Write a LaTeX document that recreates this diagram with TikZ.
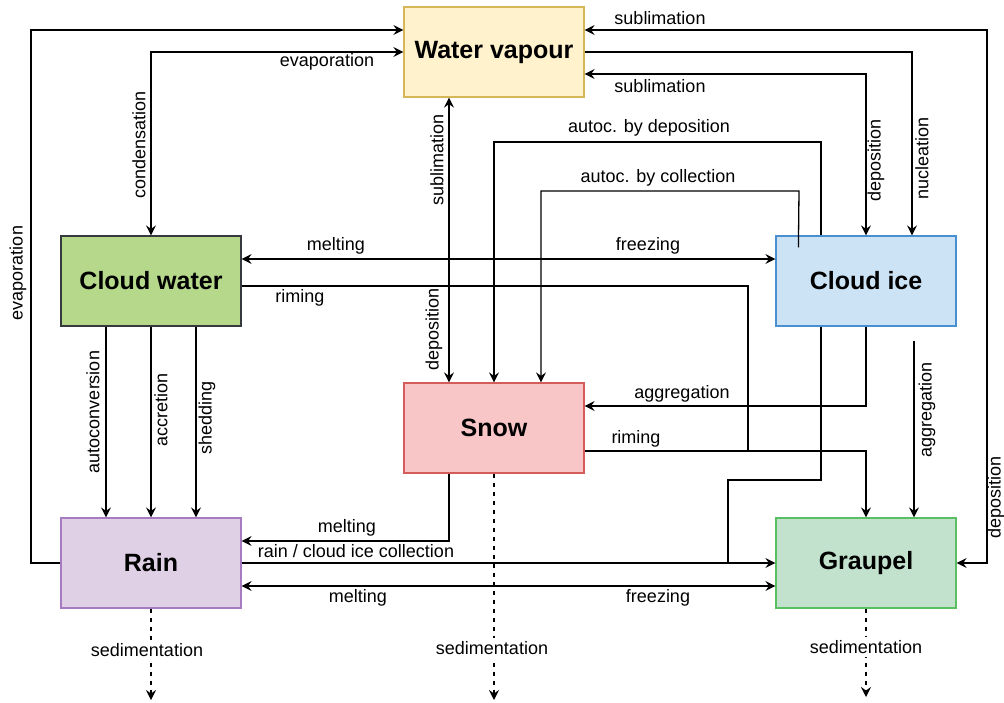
\documentclass[tikz,border=0pt]{standalone}
\usepackage{fontspec}
\setmainfont{Liberation Sans}
\usetikzlibrary{arrows.meta,calc}
\definecolor{wvF}{HTML}{FFF2CC}\definecolor{wvD}{HTML}{D6B656}
\definecolor{cwF}{HTML}{B5D88B}\definecolor{cwD}{HTML}{36393D}
\definecolor{ciF}{HTML}{CCE3F5}\definecolor{ciD}{HTML}{4A8FD0}
\definecolor{snF}{HTML}{F8C6C6}\definecolor{snD}{HTML}{D65C5C}
\definecolor{raF}{HTML}{E0D0E6}\definecolor{raD}{HTML}{A77BBF}
\definecolor{grF}{HTML}{C2E2CE}\definecolor{grD}{HTML}{5ABF63}
\tikzset{
  box/.style={draw, line width=1.2pt, minimum width=180pt, minimum height=90pt, inner sep=0pt,
    font=\fontsize{25}{30}\selectfont\bfseries},
  ln/.style={line width=1.3pt, black},
  arr/.style={ln, -{Stealth[length=10pt,width=10pt,inset=3.5pt]}},
  darr/.style={ln, {Stealth[length=10pt,width=10pt,inset=3.5pt]}-{Stealth[length=10pt,width=10pt,inset=3.5pt]}},
  sed/.style={ln, dash pattern=on 4.5pt off 4.5pt, -{Stealth[length=10pt,width=10pt,inset=3.5pt]}},
  lbl/.style={font=\fontsize{18}{21}\selectfont, inner sep=1pt},
  vlbl/.style={lbl, rotate=90},
  sedlbl/.style={lbl, fill=white, inner sep=3pt},
}
\begin{document}
\begin{tikzpicture}[x=1pt,y=-1pt]
\useasboundingbox (0,0) rectangle (1004,702);
% boxes
\node[box, fill=wvF, draw=wvD] (wv) at (494,52) {Water vapour};
\node[box, fill=cwF, draw=cwD] (cw) at (151,281) {Cloud water};
\node[box, fill=ciF, draw=ciD] (ci) at (866,281) {Cloud ice};
\node[box, fill=snF, draw=snD] (sn) at (494,428) {Snow};
\node[box, fill=raF, draw=raD] (ra) at (151,563) {Rain};
\node[box, fill=grF, draw=grD] (gr) at (866,563) {Graupel};
% helper coordinates
\coordinate (acs) at ($(ci.north west)+(23,12)$);
\coordinate (ags) at ($(ci.south)+(48,14)$);
\coordinate (sedR) at (151,700);
\coordinate (sedS) at (494,700);
\coordinate (sedG) at (866,697);
% rain evaporation
\draw[arr] (ra.west) -- (31,563) |- (wv.west |- 0,30);
% condensation / evaporation
\draw[darr] (wv.west) -| (cw.north);
% sublimation / deposition snow
\draw[darr] (wv.south -| 449,0) -- (sn.north -| 449,0);
% sublimation / deposition graupel
\draw[darr] (wv.east |- 0,30) -- (987,30) |- (gr.east);
% nucleation
\draw[arr] (wv.east) -| (ci.north -| 912,0);
% sublimation / deposition cloud ice
\draw[darr] (wv.east |- 0,74) -| (ci.north);
% autoc. by deposition
\draw[arr] (ci.north -| 821,0) -- (821,142) -| (sn.north -| 494,0);
% autoc. by collection
\draw[arr] (acs) -- (799,191) -| (sn.north -| 541,0);
% melting / freezing cloud water - cloud ice
\draw[darr] (cw.east |- 0,259) -- (ci.west |- 0,259);
% riming
\draw[ln] (cw.east |- 0,286) -| (748,451);
\draw[arr] (sn.east |- 0,451) -| (gr.north);
% aggregation to snow
\draw[arr] (ci.south) |- (sn.east |- 0,406);
% aggregation to graupel
\draw[arr] (ags) -- (gr.north -| ags);
% cloud water to rain
\draw[arr] (cw.south -| 106,0) -- (ra.north -| 106,0);
\draw[arr] (cw.south) -- (ra.north);
\draw[arr] (cw.south -| 196,0) -- (ra.north -| 196,0);
% snow melting to rain
\draw[arr] (sn.south -| 449,0) |- (ra.east |- 0,541);
% rain / cloud ice collection
\draw[arr] (ra.east) -- (gr.west);
\draw[ln] (ci.south -| 821,0) -- (821,480) -| (728,563);
% melting / freezing rain - graupel
\draw[darr] (ra.east |- 0,586) -- (gr.west |- 0,586);
% sedimentation
\draw[sed] (ra.south) -- (sedR);
\draw[sed] (sn.south) -- (sedS);
\draw[sed] (gr.south) -- (sedG);
% labels
\node[vlbl] (l1) at (18,273) {evaporation};
\node[vlbl] (l2) at (139,145) {condensation};
\node[lbl] (l3) at (327,62) {evaporation};
\node[vlbl] (l4) at (437,160) {sublimation};
\node[vlbl] (l5) at (434,329) {deposition};
\node[lbl] (l6) at (660,18) {sublimation};
\node[lbl] (l7) at (660,86) {sublimation};
\node[vlbl] (l8) at (876,160) {deposition};
\node[vlbl] (l9) at (922,158) {nucleation};
\node[vlbl] (l10) at (996,497) {deposition};
\node[lbl] (l11) at (649,128) {autoc. by deposition};
\node[lbl] (l12) at (658,178) {autoc. by collection};
\node[lbl] (l13) at (336,246) {melting};
\node[lbl] (l14) at (648,246) {freezing};
\node[lbl] (l15) at (300,298) {riming};
\node[lbl] (l16) at (682,394) {aggregation};
\node[lbl] (l17) at (636,439) {riming};
\node[vlbl] (l18) at (927,410) {aggregation};
\node[vlbl] (l19) at (93,412) {autoconversion};
\node[vlbl] (l20) at (161,410) {accretion};
\node[vlbl] (l21) at (207,418) {shedding};
\node[lbl] (l22) at (347,528) {melting};
\node[lbl] (l23) at (356,551) {rain / cloud ice collection};
\node[lbl] (l24) at (358,598) {melting};
\node[lbl] (l25) at (658,598) {freezing};
\node[sedlbl] (l26) at (147,650) {sedimentation};
\node[sedlbl] (l27) at (492,648) {sedimentation};
\node[sedlbl] (l28) at (866,647) {sedimentation};
\end{tikzpicture}
\end{document}
